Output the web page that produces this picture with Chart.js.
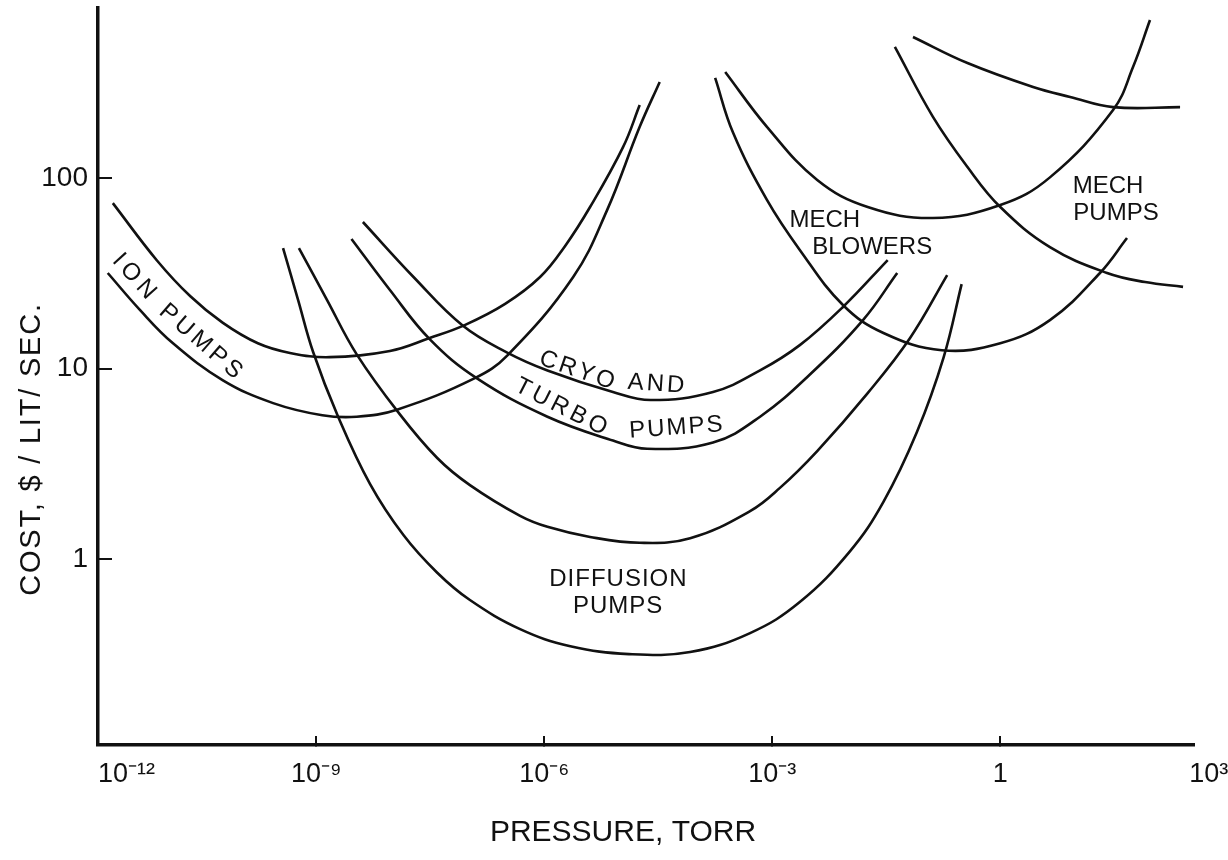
<!DOCTYPE html>
<html>
<head>
<meta charset="utf-8">
<script src="https://cdn.jsdelivr.net/npm/chart.js@4.4.1/dist/chart.umd.min.js"></script>
<style>
  html, body { margin: 0; padding: 0; background: #fff; }
  canvas { display: block; }
</style>
</head>
<body>
<canvas id="pump-chart" width="1228" height="860"></canvas>
<script>
// pressure (torr) / cost ($ per lit/sec)
const ionUpperP = [2.1e-12, 8.0e-12, 2.2e-11, 5.9e-11, 1.7e-10, 4.5e-10, 1.5e-9, 9.3e-9, 3.1e-8, 9.1e-8, 3.05e-7, 8.8e-7, 1.87e-6, 4.0e-6, 1.09e-5, 1.8e-5];
const ionUpperC = [74, 37, 24, 17.4, 13.6, 12.1, 11.5, 12.4, 14.5, 17, 21.9, 30.3, 44, 70.6, 146, 242];

const ionLowerP = [1.8e-12, 4.8e-12, 1.3e-11, 5.9e-11, 2.7e-10, 1.2e-9, 3.4e-9, 1.15e-8, 1.2e-7, 3.3e-7, 2.4e-6, 6.7e-6, 1.8e-5, 3.3e-5];
const ionLowerC = [31.8, 20.3, 13.6, 8.7, 6.6, 5.7, 5.6, 6.1, 8.9, 11.8, 30.3, 68, 186, 320];

const cryoUpperP = [4.1e-9, 1.9e-8, 8.5e-8, 3.2e-7, 1.1e-6, 8.0e-6, 2.5e-5, 1.66e-4, 6.9e-4, 2.3e-3, 8.5e-3, 3.3e-2];
const cryoUpperC = [58.9, 30.3, 16.8, 12.2, 9.8, 7.55, 6.85, 7.55, 9.8, 13.3, 21.1, 37.2];

const cryoLowerP = [2.9e-9, 9.3e-9, 3.1e-8, 1.3e-7, 1.1e-6, 8.0e-6, 2.25e-5, 1.66e-4, 6.9e-4, 3.1e-3, 1.56e-2, 4.4e-2];
const cryoLowerC = [48, 25.9, 14.3, 8.9, 5.6, 4.2, 3.8, 4.1, 5.6, 9.3, 18.0, 31.8];

const diffInnerP = [5.9e-10, 1.38e-9, 3.4e-9, 1.2e-8, 3.9e-8, 1.05e-7, 4.8e-7, 1.1e-6, 4.0e-6, 1.8e-5, 8.3e-5, 5.1e-4, 1.26e-3, 3.9e-3, 1.8e-2, 6.5e-2, 0.2];
const diffInnerC = [43, 23, 11.9, 5.9, 3.4, 2.45, 1.69, 1.48, 1.31, 1.22, 1.29, 1.79, 2.37, 3.7, 7.45, 14.5, 31];

const diffOuterP = [3.65e-10, 5.75e-10, 9.1e-10, 1.9e-9, 5.1e-9, 1.4e-8, 3.9e-8, 1.05e-7, 4.8e-7, 2.2e-6, 1.3e-5, 8.3e-5, 5.1e-4, 2.3e-3, 1.05e-2, 2.9e-2, 8.0e-2, 0.18, 0.31];
const diffOuterC = [43, 23, 12.2, 5.7, 2.48, 1.34, 0.85, 0.611, 0.43, 0.35, 0.318, 0.326, 0.41, 0.596, 1.10, 2.0, 4.65, 11.5, 27.8];

const blowerInnerP = [2.4e-4, 8.5e-4, 3.9e-3, 1.8e-2, 0.13, 1.0, 4.5, 30.5, 55.8, 93.3];
const blowerInnerC = [361, 186, 97.9, 70.6, 61.8, 72.3, 101, 228, 383, 676];

const blowerOuterP = [1.77e-4, 3.05e-4, 8.5e-4, 2.3e-3, 8.5e-3, 2.9e-2, 0.17, 1.0, 4.5, 20.5, 46.5];
const blowerOuterC = [336, 173, 76.9, 42, 21.6, 15.4, 12.5, 13.6, 18.0, 31.8, 48.5];

const mechUpperP = [7.1e-2, 0.37, 2.7, 8.3, 30.5, 232];
const mechUpperC = [551, 402, 301, 267, 236, 236];

const mechLowerP = [4.1e-2, 0.13, 0.37, 1.0, 4.5, 25.4, 80.4, 254];
const mechLowerC = [489, 210, 114.5, 70.6, 43.5, 31.8, 28.5, 26.9];

const xTickValues = [1e-12, 1e-9, 1e-6, 1e-3, 1, 1e3];
const xTickLabels = ["10⁻¹²", "10⁻⁹", "10⁻⁶", "10⁻³", "1", "10³"];
const yTickValues = [1, 10, 100];
const yTickLabels = ["1", "10", "100"];

// curve names, anchored in data units
const curveLabels = [
  { text: "ION",       p: 4.0e-12, c: 30.5, rot: 48, gap: 5 },
  { text: "PUMPS",     p: 3.0e-11, c: 13.9, rot: 41, gap: 4 },
  { text: "CRYO",      p: 2.7e-6,  c: 9.8,  rot: 19, gap: 3 },
  { text: "AND",       p: 2.95e-5, c: 8.3,  rot: 4,  gap: 3 },
  { text: "TURBO",     p: 1.66e-6, c: 6.3,  rot: 27, gap: 4 },
  { text: "PUMPS",     p: 5.4e-5,  c: 4.9,  rot: -4, gap: 2 },
  { text: "MECH",      p: 4.9e-3,  c: 60.3, rot: 0,  gap: 0 },
  { text: "BLOWERS",   p: 2.06e-2, c: 43.5, rot: 0,  gap: 0 },
  { text: "MECH",      p: 26.2,    c: 91,   rot: 0,  gap: 0 },
  { text: "PUMPS",     p: 33.3,    c: 65.6, rot: 0,  gap: 0 },
  { text: "DIFFUSION", p: 9.3e-6,  c: 0.787, rot: 0, gap: 1 },
  { text: "PUMPS",     p: 9.2e-6,  c: 0.568, rot: 0, gap: 1 },
];

const INK = "#111";
const FONT = "'Liberation Sans', Arial, sans-serif";
const X_MIN = 1.34e-12, X_MAX = 354;
const Y_MIN = 0.106, Y_MAX = 782;

const curves = [
  [ionUpperP, ionUpperC], [ionLowerP, ionLowerC],
  [cryoUpperP, cryoUpperC], [cryoLowerP, cryoLowerC],
  [diffInnerP, diffInnerC], [diffOuterP, diffOuterC],
  [blowerInnerP, blowerInnerC], [blowerOuterP, blowerOuterC],
  [mechUpperP, mechUpperC], [mechLowerP, mechLowerC],
];

const datasets = curves.map(([P, C]) => ({
  data: P.map((p, i) => ({ x: p, y: C[i] })),
  borderColor: INK,
  borderWidth: 2.6,
  pointRadius: 0,
  fill: false,
  tension: 0.4,
}));

const textPlugin = {
  id: "pumpTexts",
  afterDraw(chart) {
    const { ctx, scales: { x, y } } = chart;
    ctx.save();
    ctx.fillStyle = INK;
    ctx.textAlign = "center";
    ctx.textBaseline = "middle";
    ctx.font = `24px ${FONT}`;
    for (const l of curveLabels) {
      ctx.save();
      ctx.translate(x.getPixelForValue(l.p), y.getPixelForValue(l.c));
      ctx.rotate(l.rot * Math.PI / 180);
      ctx.letterSpacing = `${l.gap}px`;
      ctx.fillText(l.text, l.gap / 2, 0);
      ctx.restore();
    }

    // axis titles
    ctx.font = `30px ${FONT}`;
    ctx.letterSpacing = "0px";
    ctx.fillText("PRESSURE, TORR", 623, 833);

    ctx.save();
    ctx.translate(32, 449);
    ctx.rotate(-Math.PI / 2);
    ctx.font = `29px ${FONT}`;
    ctx.letterSpacing = "1.8px";
    ctx.fillText("COST, $ / LIT/ SEC.", 0, 0);
    ctx.restore();
    ctx.restore();
  },
};

const lastX = xTickValues.length - 1;

new Chart(document.getElementById("pump-chart"), {
  type: "line",
  data: { datasets },
  plugins: [textPlugin],
  options: {
    responsive: false,
    animation: false,
    layout: { padding: { left: 0, top: 8, right: 34, bottom: 0 } },
    plugins: { legend: { display: false }, tooltip: { enabled: false } },
    scales: {
      x: {
        type: "logarithmic",
        min: X_MIN,
        max: X_MAX,
        afterBuildTicks: s => { s.ticks = xTickValues.map(v => ({ value: Math.max(v, X_MIN) })); },
        afterFit: s => { s.height = 115; s.paddingLeft = 0; s.paddingRight = 0; },
        ticks: {
          autoSkip: false,
          maxRotation: 0,
          minRotation: 0,
          align: "inner",
          padding: 22,
          color: INK,
          font: { family: FONT, size: 27 },
          callback: (v, i) => xTickLabels[i],
        },
        grid: {
          drawOnChartArea: false,
          drawTicks: true,
          tickLength: -9,
          lineWidth: 2,
          color: INK,
          tickColor: c => (c.index === 0 || c.index === lastX) ? "rgba(0,0,0,0)" : INK,
        },
        border: { display: true, color: INK, width: 3.5 },
      },
      y: {
        type: "logarithmic",
        min: Y_MIN,
        max: Y_MAX,
        afterBuildTicks: s => { s.ticks = yTickValues.map(v => ({ value: v })); },
        afterFit: s => { s.width = 98; s.paddingTop = 0; s.paddingBottom = 0; },
        ticks: {
          autoSkip: false,
          padding: 24,
          color: INK,
          font: { family: FONT, size: 28 },
          callback: (v, i) => yTickLabels[i],
        },
        grid: { drawOnChartArea: false, drawTicks: true, tickLength: -14, color: INK, lineWidth: 2 },
        border: { display: true, color: INK, width: 3.5 },
      },
    },
  },
});
</script>
</body>
</html>
